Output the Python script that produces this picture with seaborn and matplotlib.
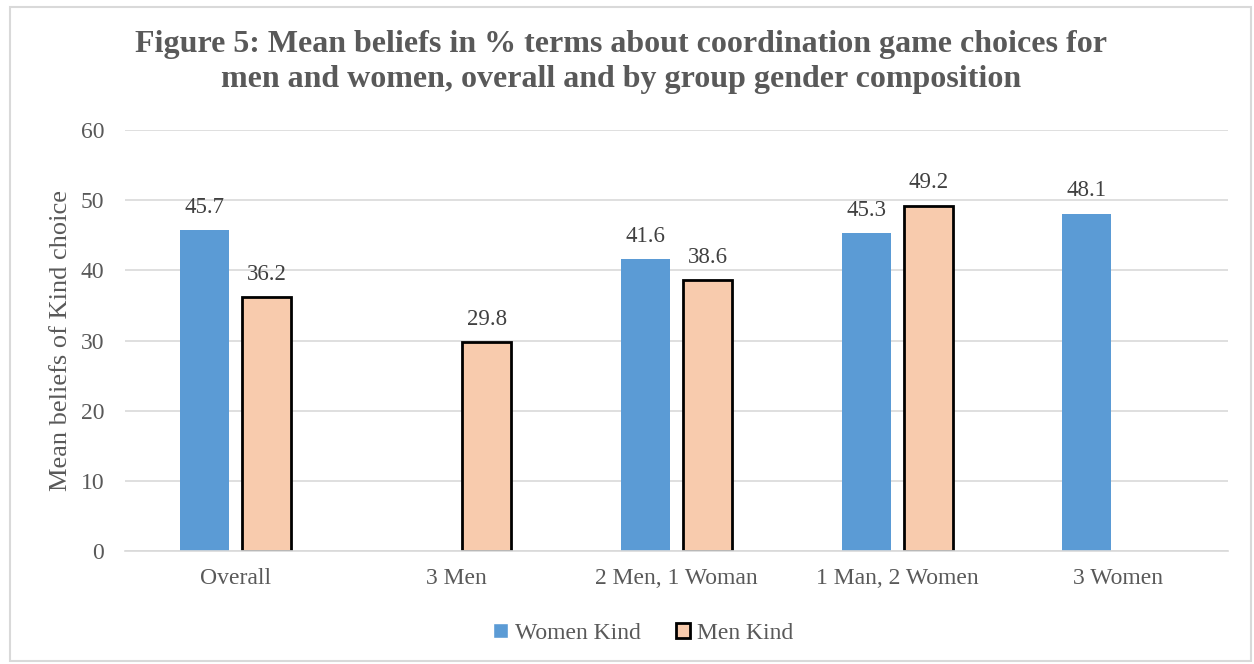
import matplotlib
matplotlib.use("Agg")
import matplotlib.pyplot as plt
import seaborn as sns
import pandas as pd
import numpy as np
from matplotlib.patches import Rectangle

categories = ["Overall", "3 Men", "2 Men, 1 Woman", "1 Man, 2 Women", "3 Women"]
women_kind = [45.7, np.nan, 41.6, 45.3, 48.1]
men_kind = [36.2, 29.8, 38.6, 49.2, np.nan]
series = ["Women Kind", "Men Kind"]
colors = {"Women Kind": "#5B9BD5", "Men Kind": "#F8CBAD"}

df = pd.DataFrame({
    "Group": categories * 2,
    "Series": [series[0]] * len(categories) + [series[1]] * len(categories),
    "Value": women_kind + men_kind,
})

sns.set_theme(style="white")
plt.rcParams['font.family'] = ['Liberation Serif', 'DejaVu Serif']
text_color = "#595959"

fig = plt.figure(figsize=(12.54, 6.64), dpi=100)
ax = fig.add_axes([0.0997, 0.170, 0.8796, 0.634])

sns.barplot(data=df, x="Group", y="Value", hue="Series", hue_order=series,
            order=categories, palette=colors, width=0.562, gap=0.21,
            ax=ax, saturation=1, legend=True, err_kws={'linewidth': 0})

for container, name in zip(ax.containers, series):
    for bar in container:
        if bar is None:
            continue
        h = bar.get_height()
        if h is None or np.isnan(h):
            continue
        if name == "Men Kind":
            bar.set_edgecolor("black")
            bar.set_linewidth(2)
        else:
            bar.set_edgecolor("none")
        ax.annotate(f"{h:.1f}", (bar.get_x() + bar.get_width() / 2, h),
                    xytext=(0, 9), textcoords="offset points", ha="center", va="bottom",
                    fontsize=16.5, color="#404040")

ax.set_ylim(0, 60)
ax.set_yticks(range(0, 61, 10))
ax.yaxis.grid(True, color="#D9D9D9", linewidth=1.2)
ax.set_axisbelow(True)
for s in ["top", "right", "left"]:
    ax.spines[s].set_visible(False)
ax.spines["bottom"].set_color("#D9D9D9")
ax.spines["bottom"].set_linewidth(1.2)
ax.tick_params(axis="y", length=0, labelsize=17, colors=text_color, pad=15)
ax.tick_params(axis="x", length=0, labelsize=17, colors=text_color, pad=12)
ax.set_xlabel("")
ax.set_ylabel("Mean beliefs of Kind choice", fontsize=19, color=text_color, labelpad=6)

leg = ax.legend(loc="upper center", bbox_to_anchor=(0.47, -0.12), ncol=2, frameon=False,
                fontsize=17, handlelength=0.6, handleheight=0.6, handletextpad=0.3,
                columnspacing=1.5, labelcolor=text_color)
for h, name in zip(leg.legend_handles, series):
    if name == "Men Kind":
        h.set_edgecolor("black")
        h.set_linewidth(2)

fig.text(0.495, 0.907, "Figure 5: Mean beliefs in % terms about coordination game choices for\nmen and women, overall and by group gender composition",
         ha="center", va="center", fontsize=23, fontweight="bold", color=text_color, linespacing=1.25)

fig.patches.append(Rectangle((0.008, 0.005), 0.99, 0.985, transform=fig.transFigure,
                             fill=False, edgecolor="#D9D9D9", linewidth=1.5))

fig.savefig("out.png", dpi=100)
